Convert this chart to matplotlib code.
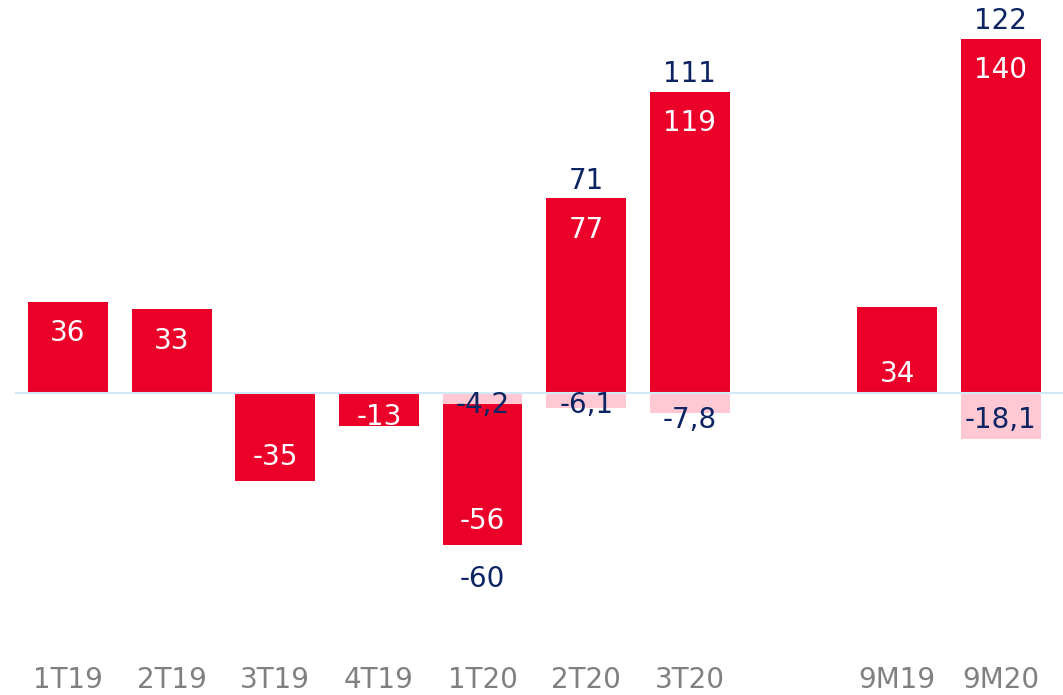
import numpy as np
import matplotlib.pyplot as plt

categories = ['1T19', '2T19', '3T19', '4T19', '1T20', '2T20', '3T20', '', '9M19', '9M20']
red_vals = [36, 33, -35, -13, -56, 77, 119, np.nan, 34, 140]
pink_vals = [0, 0, 0, 0, -4.2, -6.1, -7.8, np.nan, 0, -18.1]
totals = [None, None, None, None, -60, 71, 111, None, None, 122]

RED = '#EA0029'
PINK = '#FFC8D3'
NAVY = '#0D2463'
GRAY = '#808080'

plt.rcParams['font.family'] = ['DejaVu Sans']

fig = plt.figure(figsize=(10.63, 6.95), dpi=100)
ax = fig.add_axes([0, 0, 1, 1])
ax.set_xlim(-0.656, 9.6)
ax.set_ylim(-119.4, 155.3)
ax.axis('off')

ppu = 2.53  # pixels per unit, for label offsets
dy = -3.5 / ppu  # DejaVu centers a bit high
x = np.arange(len(categories))
w = 0.77
fs = 20

for i in range(len(categories)):
    r = red_vals[i]
    p = pink_vals[i]
    if np.isnan(r):
        continue
    if r < 0:
        # pink sits on the zero line, red below it
        ax.bar(x[i], p, width=w, color=PINK, zorder=2)
        ax.bar(x[i], r, bottom=p, width=w, color=RED, zorder=2)
        red_bottom = p + r
    else:
        ax.bar(x[i], r, width=w, color=RED, zorder=2)
        if p != 0:
            ax.bar(x[i], p, width=w, color=PINK, zorder=2)
        red_bottom = r

    # label inside red bar
    if r > 0:
        if categories[i] == '9M19':
            ly = 9
        else:
            ly = r - 28 / ppu
    else:
        if r > -20:
            ly = r / 2 - 1.5
        else:
            ly = red_bottom + 28 / ppu
    ax.text(x[i], ly + dy, '%d' % r, color='white', fontsize=fs, ha='center', va='center', zorder=4)

    # pink label
    if p != 0:
        if p > -7:
            py = -3.5
        else:
            py = -9.5
        ax.text(x[i], py + dy, ('%.1f' % p).replace('.', ','), color=NAVY, fontsize=fs,
                ha='center', va='center', zorder=4)

    # total label
    if totals[i] is not None:
        t = totals[i]
        if t < 0:
            ty = red_bottom - 30 / ppu
        else:
            ty = r + 21 / ppu
        ax.text(x[i], ty + dy, '%d' % t, color=NAVY, fontsize=fs, ha='center', va='center', zorder=4)

ax.axhline(0, xmin=16 / 1063, xmax=1, color='#CFE9F7', lw=1.5, zorder=3)

for i, c in enumerate(categories):
    ax.text(x[i], -(678 - 393) / ppu + dy * 0.6, c, color=GRAY, fontsize=fs, ha='center', va='center')

fig.savefig('out.png', dpi=100)
